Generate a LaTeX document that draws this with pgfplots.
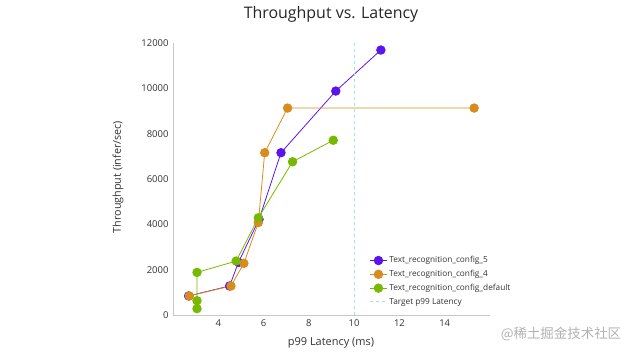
\documentclass[border=0pt]{standalone}
\usepackage{fontspec}
\setmainfont{Open Sans}
\newfontfamily\cjk{Noto Sans CJK SC}
\usepackage{pgfplots}
\pgfplotsset{compat=1.18}
\definecolor{cfgfive}{HTML}{5A14EE}
\definecolor{cfgfour}{HTML}{D98C1E}
\definecolor{cfgdef}{HTML}{76B900}
\definecolor{target}{HTML}{9EE6E2}
\definecolor{axgray}{HTML}{C8C8C8}
\definecolor{txt}{HTML}{333333}
\begin{document}
\begin{tikzpicture}
\useasboundingbox (0,0) rectangle (630bp,354bp);
\begin{axis}[
  at={(173bp,39bp)}, anchor=south west,
  scale only axis, width=317bp, height=272bp,
  xmin=2, xmax=16, ymin=0, ymax=12000,
  xtick={4,6,8,10,12,14}, ytick={0,2000,4000,6000,8000,10000,12000},
  axis x line=bottom, axis y line=left,
  axis line style={axgray, -},
  major tick length=0pt,
  tick label style={font=\fontsize{9.5}{11}\selectfont, text=txt},
  /pgf/number format/assume math mode=true,
  scaled y ticks=false,
  yticklabel style={/pgf/number format/1000 sep={}, xshift=-1bp},
  xticklabel style={yshift=-1bp},
  legend style={at={(0.61,0.23)}, anchor=north west, draw=none, fill=none,
    font=\fontsize{8.3}{9.5}\selectfont, text=txt, row sep=2bp,
    /tikz/every even column/.append style={column sep=4pt}},
  legend cell align=left,
  every axis plot/.append style={line width=0.8pt, mark=*, mark size=4.3pt},
]
\addplot[cfgfive, mark options={fill=cfgfive, draw=cfgfive}] coordinates {
(2.69,840) (4.50,1280) (4.89,2320) (5.80,4220) (6.77,7160) (9.19,9880) (11.18,11690)};
\addlegendentry{Text\_recognition\_config\_5}
\addplot[cfgfour, mark options={fill=cfgfour, draw=cfgfour}] coordinates {
(2.72,840) (4.56,1280) (5.13,2280) (5.77,4080) (6.05,7160) (7.06,9130) (15.30,9130)};
\addlegendentry{Text\_recognition\_config\_4}
\addplot[cfgdef, mark options={fill=cfgdef, draw=cfgdef}] coordinates {
(3.06,280) (3.06,630) (3.06,1880) (4.79,2380) (5.77,4290) (7.28,6760) (9.08,7710)};
\addlegendentry{Text\_recognition\_config\_default}
\addplot[target, dashed, line width=0.7pt, mark=none] coordinates {(10,0) (10,12000)};
\addlegendentry{Target p99 Latency}
\end{axis}
\node[text=black!85, font=\fontsize{16}{18}\selectfont] at (331bp,340bp) {Throughput vs. Latency};
\node[text=txt, font=\fontsize{11}{13}\selectfont] at (331bp,11bp) {p99 Latency (ms)};
\node[text=txt, font=\fontsize{10.8}{13}\selectfont, rotate=90] at (118bp,177bp) {Throughput (infer/sec)};
\node[text=black!30, font=\cjk\fontsize{13.5}{15}\selectfont] at (561bp,20bp) {@稀土掘金技术社区};
\end{tikzpicture}
\end{document}
